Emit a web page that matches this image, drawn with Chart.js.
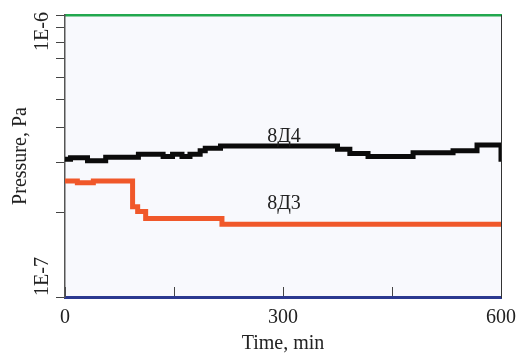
<!DOCTYPE html>
<html>
<head>
<meta charset="utf-8">
<script src="https://cdn.jsdelivr.net/npm/chart.js@4/dist/chart.umd.min.js"></script>
<style>
  html, body { margin: 0; padding: 0; background: #fff; }
  #wrap { width: 518px; height: 354px; position: relative; }
</style>
</head>
<body>
<div id="wrap"><canvas id="c" width="518" height="354"></canvas></div>
<script>
// ---- data (time in min, pressure in Pa) ----
const timeD4 = [0, 7.6, 31, 56, 101, 135, 148, 161, 172, 186, 193, 214, 375, 392, 417, 479, 534, 567, 599, 600];
const presD4 = [3.08e-7, 3.12e-7, 3.04e-7, 3.13e-7, 3.21e-7, 3.15e-7, 3.21e-7, 3.15e-7, 3.21e-7, 3.30e-7, 3.37e-7, 3.43e-7, 3.34e-7, 3.23e-7, 3.15e-7, 3.25e-7, 3.30e-7, 3.46e-7, 3.46e-7, 3.02e-7];
const timeD3 = [0, 17, 39, 93, 100, 111, 216, 600];
const presD3 = [2.58e-7, 2.54e-7, 2.58e-7, 2.09e-7, 2.01e-7, 1.90e-7, 1.81e-7, 1.81e-7];
const seriesNames = ['8Д4', '8Д3'];
const seriesLabelPos = [[300, 3.55e-7], [300, 2.05e-7]]; // label anchors in data units
const xTickMarks = [0, 150, 300, 450, 600];
const xTickLabels = [0, 300, 600];
const yTickMarks = [1e-7, 2e-7, 3e-7, 4e-7, 5e-7, 6e-7, 7e-7, 8e-7, 9e-7, 1e-6];
const yTickLabels = ['1E-6', '1E-7'];
const yTickValues = [1e-6, 1e-7];
const xTitle = 'Time, min';
const yTitle = 'Pressure, Pa';

const toPts = (t, p) => t.map((v, i) => ({x: v, y: p[i]}));
const FONT = '20px "Liberation Serif", "Times New Roman", serif';
const TXT = '#222';

const decor = {
  id: 'decor',
  beforeDraw(chart) {
    const {ctx, chartArea: a} = chart;
    ctx.save();
    ctx.fillStyle = '#f8f9fd';
    ctx.fillRect(a.left, a.top, a.right - a.left, a.bottom - a.top);
    ctx.restore();
  },
  afterDraw(chart) {
    const {ctx, chartArea: a} = chart;
    const xs = chart.scales.x, ys = chart.scales.y;
    ctx.save();
    ctx.font = FONT;
    ctx.fillStyle = TXT;
    ctx.textAlign = 'center';
    ctx.textBaseline = 'alphabetic';
    xTickLabels.forEach(v => ctx.fillText(String(v), xs.getPixelForValue(v), 323));
    ctx.fillText(xTitle, (a.left + a.right) / 2, 349);
    seriesNames.forEach((n, i) => {
      const [tx, ty] = seriesLabelPos[i];
      ctx.fillText(n, xs.getPixelForValue(tx) + 1, ys.getPixelForValue(ty));
    });
    yTickLabels.forEach((lab, i) => {
      const py = ys.getPixelForValue(yTickValues[i]);
      ctx.save();
      ctx.translate(48, i === 0 ? py - 3 : py - 1);
      ctx.rotate(-Math.PI / 2);
      ctx.textAlign = i === 0 ? 'right' : 'left';
      ctx.fillText(lab, 0, 0);
      ctx.restore();
    });
    ctx.save();
    ctx.translate(26, (a.top + a.bottom) / 2);
    ctx.rotate(-Math.PI / 2);
    ctx.textAlign = 'center';
    ctx.fillText(yTitle, 0, 0);
    ctx.restore();
    ctx.restore();
  }
};

new Chart(document.getElementById('c'), {
  type: 'line',
  data: {
    datasets: [
      { label: seriesNames[0], data: toPts(timeD4, presD4), borderColor: '#0b0b0b', borderWidth: 5,
        pointRadius: 0, stepped: true, fill: false, xAxisID: 'x', yAxisID: 'y' },
      { label: seriesNames[1], data: toPts(timeD3, presD3), borderColor: '#f0582a', borderWidth: 5,
        pointRadius: 0, stepped: true, fill: false, xAxisID: 'x', yAxisID: 'y' }
    ]
  },
  options: {
    responsive: false,
    animation: false,
    devicePixelRatio: 1,
    layout: { padding: { left: 56, right: 17, top: 15, bottom: 57 } },
    plugins: { legend: { display: false }, tooltip: { enabled: false } },
    scales: {
      x: {
        type: 'linear', position: 'bottom', min: 0, max: 600,
        ticks: { display: false },
        afterBuildTicks(s) { s.ticks = xTickMarks.map(v => ({value: v})); },
        grid: { drawOnChartArea: false, drawTicks: true, tickLength: -10, color: '#444', lineWidth: 1 },
        border: { display: true, color: '#2b3990', width: 3 },
        afterFit(s) { s.height = 0; }
      },
      xTop: {
        type: 'linear', position: 'top', min: 0, max: 600,
        ticks: { display: false },
        grid: { display: false, drawTicks: false },
        border: { display: true, color: '#22a84f', width: 2.5 },
        afterFit(s) { s.height = 0; }
      },
      y: {
        type: 'logarithmic', position: 'left', min: 1e-7, max: 1e-6,
        ticks: { display: false },
        afterBuildTicks(s) { s.ticks = yTickMarks.map(v => ({value: v})); },
        grid: { drawOnChartArea: false, drawTicks: true, tickLength: 9, color: '#444', lineWidth: 1 },
        border: { display: true, color: '#555', width: 1.5 },
        afterFit(s) { s.width = 9; }
      },
      yRight: {
        type: 'linear', position: 'right', min: 0, max: 1,
        ticks: { display: false },
        grid: { display: false, drawTicks: false },
        border: { display: true, color: '#333', width: 1 },
        afterFit(s) { s.width = 0; }
      }
    }
  },
  plugins: [decor]
});
</script>
</body>
</html>
